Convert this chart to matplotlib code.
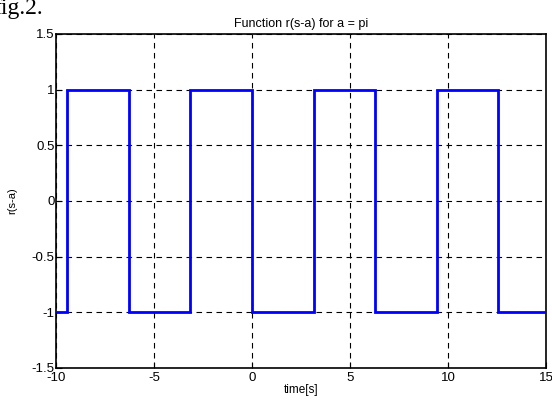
import matplotlib
matplotlib.use("Agg")
import matplotlib.pyplot as plt

edges = [-10, -9.42, -6.28, -3.14, 0.0, 3.14, 6.28, 9.42, 12.57, 15]
levels = [-1, 1, -1, 1, -1, 1, -1, 1, -1]
xticks = [-10, -5, 0, 5, 10, 15]
yticks = [-1.5, -1, -0.5, 0, 0.5, 1, 1.5]
ytick_labels = ["-1.5", "-1", "-0.5", "0", "0.5", "1", "1.5"]

plt.rcParams['font.family'] = ['Liberation Sans', 'DejaVu Sans']
fig = plt.figure(figsize=(5.52, 4.03), dpi=100)
ax = fig.add_axes([56/552, 35/403, (546-56)/552, (368-34)/403])
ax.set_axisbelow(True)
ax.stairs(levels, edges, color='#0000ff', linewidth=2, baseline=None, zorder=3)
ax.set_xlim(-10, 15)
ax.set_ylim(-1.5, 1.5)
ax.set_xticks(xticks)
ax.set_xticklabels([str(t) for t in xticks])
ax.set_yticks(yticks)
ax.set_yticklabels(ytick_labels)
ax.grid(True, color='black', linestyle=(0, (5, 4)), linewidth=0.8)
ax.tick_params(direction='in', length=4, labelsize=9.5, colors='black')
ax.tick_params(axis='x', pad=3)
ax.tick_params(axis='y', pad=1)
for s in ax.spines.values():
    s.set_linewidth(1.2)
ax.set_title("Function r(s-a) for a = pi", fontsize=9, pad=5)
ax.set_xlabel("time[s]", fontsize=8.5, labelpad=0)
ax.set_ylabel("r(s-a)", fontsize=8, labelpad=10)
fig.text(-0.012, 1.005, "fig.2.", fontsize=17, family='Liberation Serif', va='top', ha='left')
fig.savefig("out.png", dpi=100)
